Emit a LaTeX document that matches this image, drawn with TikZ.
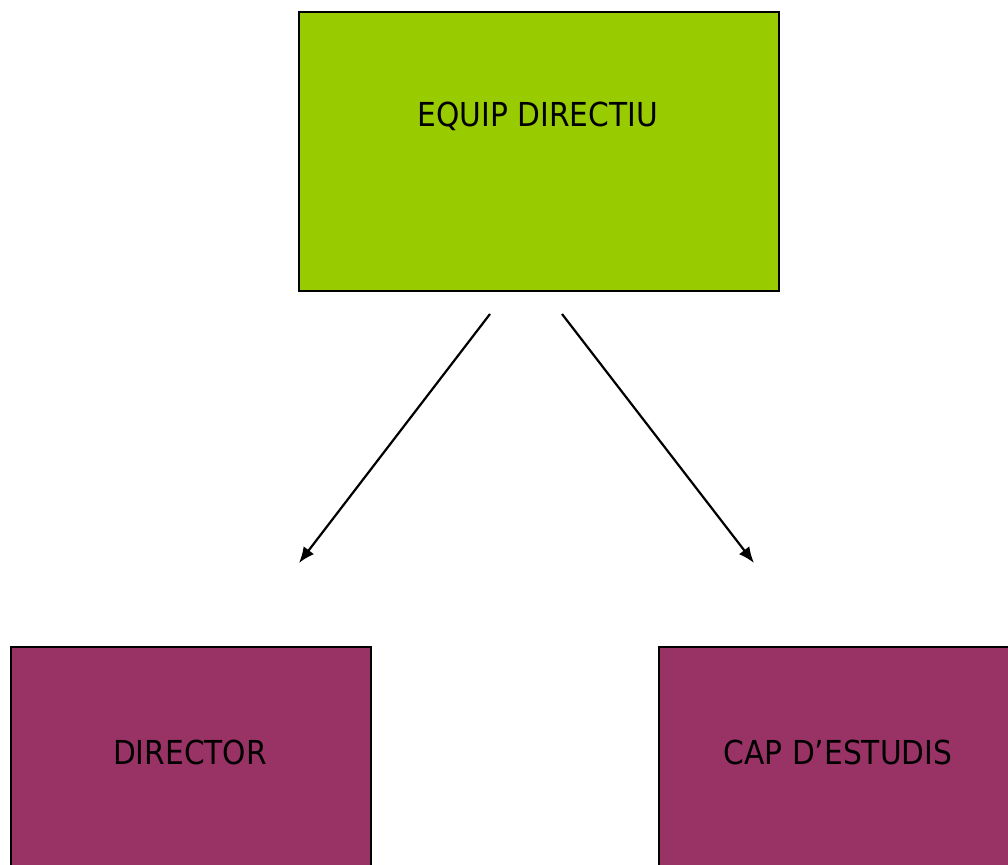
\documentclass[tikz,border=0pt]{standalone}
\usepackage{fontspec}
\setmainfont{DejaVu Sans Condensed}
\usetikzlibrary{arrows.meta}
\definecolor{boxgreen}{HTML}{99CC00}
\definecolor{boxpurple}{HTML}{993366}
\begin{document}
\begin{tikzpicture}[x=1pt,y=-1pt,
  box/.style={draw=black,line width=1.6pt,inner sep=0pt,anchor=north west},
  lbl/.style={font=\fontsize{33}{38}\selectfont,text=black,inner sep=0pt},
  conn/.style={line width=2.2pt,-{Latex[length=16pt,width=13pt]}}]
\useasboundingbox (0,0) rectangle (1008,864);
\clip (0,0) rectangle (1008,864);
\node[box,fill=boxgreen,minimum width=480pt,minimum height=279pt] (top) at (298,11) {};
\node[lbl] (toplbl) at (538,116) {EQUIP DIRECTIU};
\node[box,fill=boxpurple,minimum width=360pt,minimum height=240pt] (dir) at (10,646) {};
\node[lbl] (dirlbl) at (190,752) {DIRECTOR};
\node[box,fill=boxpurple,minimum width=360pt,minimum height=240pt] (cap) at (658,646) {};
\node[lbl] (caplbl) at (838,752) {CAP D’ESTUDIS};
\coordinate (s1) at (490,314);
\coordinate (e1) at (299,563);
\coordinate (s2) at (562,314);
\coordinate (e2) at (754,563);
\draw[conn] (s1) -- (e1);
\draw[conn] (s2) -- (e2);
\end{tikzpicture}
\end{document}
